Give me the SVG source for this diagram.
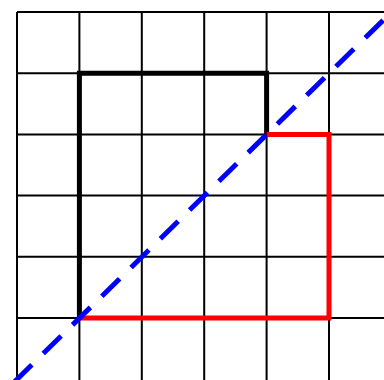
<svg xmlns="http://www.w3.org/2000/svg" width="384" height="380" viewBox="0 0 384 380">
<style>
.grid{stroke:#000;stroke-width:2;fill:none}
.blk{stroke:#000;stroke-width:5;fill:none;stroke-linejoin:miter}
.red{stroke:#ff0000;stroke-width:5;fill:none;stroke-linejoin:miter}
.diag{stroke:#0000ff;stroke-width:5;fill:none;stroke-dasharray:25 16}
</style>
<rect width="384" height="380" fill="#fff"/>
<g id="grid" class="grid">
<path d="M17,12V380M79.4,12V380M141.8,12V380M204.2,12V380M266.6,12V380M329,12V380"/>
<path d="M17,12H384M17,73.2H384M17,134.4H384M17,195.6H384M17,256.8H384M17,318H384"/>
</g>
<g id="connectors">
<path id="black-path" class="blk" d="M79.4,318V73.2H266.6V134.4"/>
<path id="red-path" class="red" d="M266.6,134.4H329V318H79.4"/>
<path id="diagonal" class="diag" d="M14,382.3L390,13.5"/>
</g>
</svg>
